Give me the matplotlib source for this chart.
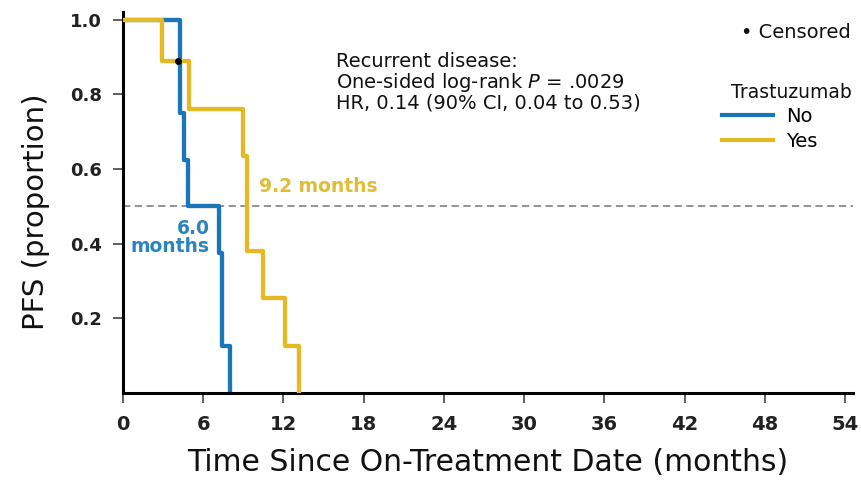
import matplotlib
matplotlib.use('Agg')
import matplotlib.pyplot as plt
from matplotlib.lines import Line2D

# Kaplan-Meier steps, read as (time in months, survival proportion)
no_times = [0, 4.3, 4.55, 4.85, 7.15, 7.4, 8.0]
no_surv = [1.0, 0.75, 0.625, 0.5, 0.375, 0.125, 0.0]

yes_times = [0, 2.9, 4.9, 9.0, 9.3, 10.5, 12.1, 13.2]
yes_surv = [1.0, 0.889, 0.762, 0.635, 0.381, 0.254, 0.127, 0.0]

censor_times = [4.1]
censor_surv = [0.889]

median_no = 6.0
median_yes = 9.2

x_ticks = [0, 6, 12, 18, 24, 30, 36, 42, 48, 54]
y_ticks = [0.2, 0.4, 0.6, 0.8, 1.0]

BLUE = '#1b75b9'
YELLOW = '#e5b824'
FONT = 'DejaVu Sans'

plt.rcParams['font.family'] = FONT
plt.rcParams['mathtext.fontset'] = 'dejavusans'

W, H = 862, 480
fig = plt.figure(figsize=(W / 100, H / 100), dpi=100)
ax = fig.add_axes([123 / W, 1 - 393 / H, (853 - 123) / W, (393 - 12) / H])

ax.axhline(0.5, color='#8a8a8a', lw=1.3, ls=(0, (4, 2.5)), zorder=1)

ax.step(no_times, no_surv, where='post', color=BLUE, lw=3.1, zorder=2)
ax.step(yes_times, yes_surv, where='post', color=YELLOW, lw=3.1, zorder=3)
ax.plot(censor_times, censor_surv, 'o', color='black', ms=4, zorder=4)

ax.set_xlim(0, 54.6)
ax.set_ylim(0, 1.021)
ax.set_xticks(x_ticks)
ax.set_yticks(y_ticks)
ax.set_xticklabels([str(t) for t in x_ticks], fontsize=14, fontweight='bold', color='#222222')
ax.set_yticklabels([f'{v:.1f}' for v in y_ticks], fontsize=13, fontweight='bold', color='#222222')
ax.tick_params(axis='both', direction='out', length=7.2, width=1.1, color='#333333')
ax.tick_params(axis='x', pad=8.5)
ax.tick_params(axis='y', pad=8)

for side in ['top', 'right']:
    ax.spines[side].set_visible(False)
for side in ['left', 'bottom']:
    ax.spines[side].set_linewidth(2.2)

ax.set_xlabel('Time Since On-Treatment Date (months)', fontsize=21.5, labelpad=10, color='#111111')
ax.set_ylabel('PFS (proportion)', fontsize=21, labelpad=14, color='#111111')
ax.yaxis.label.set_y(0.475)

# median labels
ax.text(6.5, 0.417, f'{median_no:.1f}\nmonths', color='#2b84c2', fontsize=13.5,
        ha='right', va='center', linespacing=0.95, fontweight='bold')
ax.text(10.15, 0.554, f'{median_yes:.1f} months', color='#e0bd35', fontsize=13.5,
        ha='left', va='center', fontweight='bold')

ax.text(15.9, 0.915, 'Recurrent disease:\nOne-sided log-rank $P$ = .0029\nHR, 0.14 (90% CI, 0.04 to 0.53)',
        fontsize=14, ha='left', va='top', linespacing=1.0, color='#111111')

fig.text(851 / W, 1 - 32 / H, '• Censored', fontsize=14, ha='right', va='center', color='#111111')

# legend: title as its own text, entries below it
fig.text(852 / W, 1 - 93 / H, 'Trastuzumab', fontsize=13.5, ha='right', va='center', color='#111111')
handles = [Line2D([], [], color=BLUE, lw=3), Line2D([], [], color=YELLOW, lw=3)]
leg = ax.legend(handles, ['No', 'Yes'], frameon=False,
                loc='upper left', bbox_to_anchor=(722 / W, 1 - 107 / H),
                bbox_transform=fig.transFigure, fontsize=14,
                handlelength=2.6, handletextpad=0.7, labelspacing=0.3, borderpad=0,
                borderaxespad=0)

fig.savefig('out.png', dpi=100)
